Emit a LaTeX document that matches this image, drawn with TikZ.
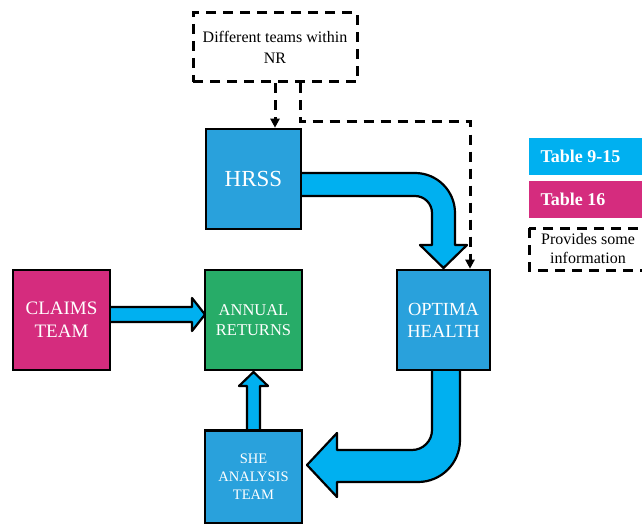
\documentclass[tikz,border=0pt]{standalone}
\usepackage{fontspec}
\setmainfont{LiberationSerif}[Extension=.ttf, UprightFont=*-Regular, BoldFont=*-Bold, ItalicFont=*-Italic, BoldItalicFont=*-BoldItalic]
\usetikzlibrary{arrows.meta}
\definecolor{boxblue}{RGB}{41,161,220}
\definecolor{arrowcyan}{RGB}{0,176,240}
\definecolor{boxmag}{RGB}{213,44,126}
\definecolor{boxgreen}{RGB}{39,172,104}
\tikzset{
  solidbox/.style={draw=black, line width=2.6pt, inner sep=0pt, align=center, text=white},
  fatarrow/.style={fill=arrowcyan, draw=black, line width=2.2pt, line join=round},
  dashline/.style={draw=black, line width=3pt, dash pattern=on 10pt off 7pt},
  dashtip/.style={-{Triangle[length=9pt,width=9pt]}},
}
\begin{document}
\begin{tikzpicture}[x=1pt,y=1pt]
\useasboundingbox (0,0) rectangle (642,-524);
% fat arrows (behind boxes)
\draw[fatarrow] (300,-173) -- (415,-173) arc[start angle=90,end angle=0,radius=40pt]
  -- (455,-245) -- (467,-245) -- (443.5,-268) -- (420,-245) -- (432,-245) -- (432,-213)
  arc[start angle=0,end angle=90,radius=17pt] -- (300,-196) -- cycle;
\draw[fatarrow] (432,-368) -- (432,-430) arc[start angle=0,end angle=-90,radius=20pt]
  -- (337,-450) -- (337,-433) -- (307,-465) -- (337,-497) -- (337,-482) -- (418,-482)
  arc[start angle=-90,end angle=0,radius=42pt] -- (460,-368) -- cycle;
\draw[fatarrow] (108,-307) -- (192,-307) -- (192,-298) -- (205,-314.5) -- (192,-331) -- (192,-322) -- (108,-322) -- cycle;
\draw[fatarrow] (247,-432) -- (247,-386) -- (239,-386) -- (253.5,-372) -- (268,-386) -- (260,-386) -- (260,-432) -- cycle;
% boxes
\node[solidbox, fill=boxblue, minimum width=95pt, minimum height=100pt, font=\fontsize{23}{26}\selectfont] (hrss) at (253.5,-179) {HRSS};
\node[solidbox, fill=boxblue, minimum width=93pt, minimum height=100pt, font=\fontsize{18.5}{22}\selectfont] (optima) at (443.5,-320) {OPTIMA\\HEALTH};
\node[solidbox, fill=boxgreen, minimum width=97pt, minimum height=100pt, font=\fontsize{16.5}{20}\selectfont] (annual) at (253.5,-320) {ANNUAL\\RETURNS};
\node[solidbox, fill=boxmag, minimum width=97pt, minimum height=100pt, font=\fontsize{19}{23}\selectfont] (claims) at (61.5,-320) {CLAIMS\\TEAM};
\node[solidbox, fill=boxblue, minimum width=97pt, minimum height=93pt, font=\fontsize{14.5}{18}\selectfont] (she) at (253.5,-477) {SHE\\ANALYSIS\\TEAM};
% dashed source box
\node[dashline, minimum width=164pt, minimum height=69pt, align=center, inner sep=0pt, font=\fontsize{16}{21}\selectfont] (teams) at (275,-47.5) {Different teams within\\NR};
\draw[dashline, dashtip] (teams.south -| 275,0) -- (hrss.north -| 275,0);
\draw[dashline, dashtip] (teams.south -| 300,0) -- (300,-122) -- (470,-122) -- (optima.north -| 470,0);
% legend
\fill[arrowcyan] (529,-138) rectangle (650,-175);
\node[anchor=west, text=white, font=\bfseries\fontsize{18}{20}\selectfont] (leg1) at (537,-156) {Table 9-15};
\fill[boxmag] (529,-181) rectangle (650,-218);
\node[anchor=west, text=white, font=\bfseries\fontsize{18}{20}\selectfont] (leg2) at (537,-199) {Table 16};
\draw[dashline] (529,-228) rectangle (652,-270);
\node[align=center, font=\fontsize{16}{19}\selectfont] (leg3) at (588,-249) {Provides some\\information};
\end{tikzpicture}
\end{document}
